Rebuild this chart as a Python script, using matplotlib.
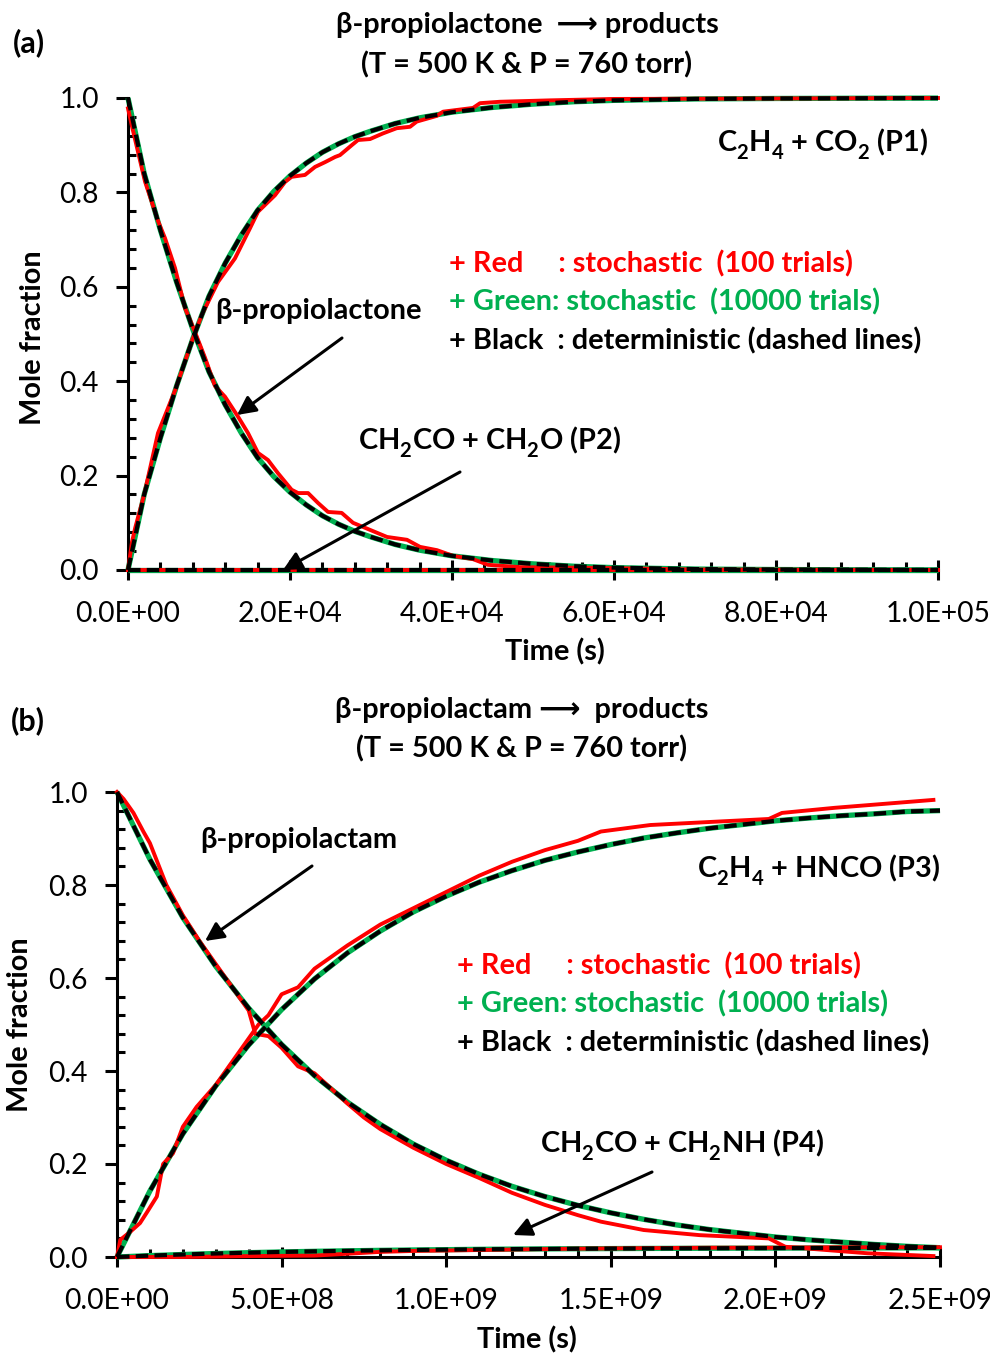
import matplotlib
matplotlib.use("Agg")
import matplotlib.pyplot as plt
from matplotlib.ticker import MultipleLocator, FixedLocator

plt.rcParams['font.family'] = ['Lato', 'DejaVu Sans']
plt.rcParams['mathtext.fontset'] = 'custom'
plt.rcParams['mathtext.rm'] = 'Lato:bold'
plt.rcParams['mathtext.it'] = 'Lato:bold'
plt.rcParams['mathtext.bf'] = 'Lato:bold'
plt.rcParams['mathtext.default'] = 'rm'
try:
    import matplotlib._mathtext as _mt
    _mt.FontConstantsBase.sub1 = 0.55
except Exception:
    pass

# ---------------- Panel (a) data ----------------
a_t_det = [0, 2000, 4000, 6000, 8000, 10000, 12000, 14000, 16000, 18000, 20000, 22000,
           24000, 26000, 28000, 30000, 33000, 36000, 40000, 45000, 50000, 55000, 60000,
           70000, 80000, 90000, 100000]
a_react_det = [1.0, 0.84, 0.72, 0.61, 0.51, 0.42, 0.35, 0.29, 0.238, 0.198, 0.165, 0.138,
               0.115, 0.097, 0.082, 0.070, 0.054, 0.042, 0.030, 0.020, 0.013, 0.008, 0.005,
               0.002, 0.001, 0.0005, 0.0002]
a_p1_det = [0.0, 0.16, 0.28, 0.39, 0.49, 0.58, 0.65, 0.71, 0.762, 0.802, 0.835, 0.862,
            0.885, 0.903, 0.918, 0.930, 0.946, 0.958, 0.970, 0.980, 0.987, 0.992, 0.995,
            0.998, 0.999, 0.9995, 0.9998]
a_t_p2 = [0, 100000]
a_p2_det = [0.0, 0.0]

a_react_green = [1.0, 0.84, 0.72, 0.61, 0.51, 0.42, 0.35, 0.29, 0.238, 0.198, 0.165, 0.138,
                 0.115, 0.097, 0.082, 0.070, 0.054, 0.042, 0.030, 0.020, 0.013, 0.008, 0.005,
                 0.002, 0.001, 0.0005, 0.0002]
a_p1_green = [0.0, 0.16, 0.28, 0.39, 0.49, 0.58, 0.65, 0.71, 0.762, 0.802, 0.835, 0.862,
              0.885, 0.903, 0.918, 0.930, 0.946, 0.958, 0.970, 0.980, 0.987, 0.992, 0.995,
              0.998, 0.999, 0.9995, 0.9998]
a_p2_green = [0.0, 0.0]

a_t_react_red = [0, 450, 2100, 3740, 4570, 5800, 7040, 8020, 9500, 10740, 11980, 13580, 14820,
                 16050, 17280, 18520, 20200, 21000, 22230, 23460, 24700, 26380, 27780, 29880,
                 31980, 34440, 36050, 38150, 40120, 42590, 44440, 48400, 59900, 70000, 100000]
a_react_red = [0.978, 0.943, 0.823, 0.738, 0.703, 0.64, 0.555, 0.515, 0.45, 0.39, 0.367, 0.325,
               0.29, 0.248, 0.233, 0.205, 0.17, 0.163, 0.163, 0.142, 0.123, 0.121, 0.100, 0.085,
               0.070, 0.064, 0.049, 0.042, 0.030, 0.023, 0.011, 0.006, 0.004, 0.001, 0.0]
a_t_p1_red = [0, 500, 900, 2000, 3700, 5800, 8000, 9100, 11100, 13200, 15060, 16050, 18150,
              19380, 20200, 21850, 23090, 24320, 25560, 26170, 27620, 28400, 29880, 31480,
              33170, 34820, 35640, 38100, 38900, 42600, 43460, 45900, 52100, 60000, 100000]
a_p1_red = [0.0, 0.06, 0.09, 0.16, 0.29, 0.38, 0.49, 0.54, 0.61, 0.66, 0.724, 0.759, 0.794,
            0.822, 0.833, 0.837, 0.854, 0.864, 0.875, 0.879, 0.90, 0.911, 0.913, 0.925,
            0.936, 0.939, 0.950, 0.962, 0.971, 0.979, 0.989, 0.992, 0.995, 0.998, 1.0]
a_p2_red = [0.0, 0.0]

a_xticks = [0, 20000, 40000, 60000, 80000, 100000]
a_xticklabels = ['0.0E+00', '2.0E+04', '4.0E+04', '6.0E+04', '8.0E+04', '1.0E+05']

# ---------------- Panel (b) data ----------------
b_t_det = [0, 1e8, 2e8, 3e8, 4e8, 5e8, 6e8, 7e8, 8e8, 9e8, 10e8, 11e8, 12e8, 13e8, 14e8,
           15e8, 16e8, 17e8, 18e8, 19e8, 20e8, 21e8, 22e8, 23e8, 24e8, 25e8]
b_react_det = [1.0, 0.855, 0.73, 0.625, 0.535, 0.457, 0.39, 0.333, 0.285, 0.243, 0.208, 0.178,
               0.152, 0.130, 0.111, 0.095, 0.081, 0.069, 0.059, 0.051, 0.043, 0.037, 0.032,
               0.027, 0.023, 0.020]
b_p3_det = [0.0, 0.142, 0.265, 0.368, 0.456, 0.532, 0.598, 0.654, 0.701, 0.742, 0.776, 0.806,
            0.831, 0.853, 0.871, 0.887, 0.901, 0.912, 0.922, 0.930, 0.938, 0.944, 0.949,
            0.953, 0.958, 0.960]
b_p4_det = [0.0, 0.003, 0.0054, 0.0075, 0.0093, 0.0109, 0.0122, 0.0133, 0.0143, 0.0151,
            0.0158, 0.0165, 0.017, 0.0174, 0.0178, 0.0181, 0.0184, 0.0186, 0.0188, 0.019,
            0.0191, 0.0193, 0.0194, 0.0195, 0.0195, 0.0196]

b_react_green = [1.0, 0.855, 0.73, 0.625, 0.535, 0.457, 0.39, 0.333, 0.285, 0.243, 0.208, 0.178,
                 0.152, 0.130, 0.111, 0.095, 0.081, 0.069, 0.059, 0.051, 0.043, 0.037, 0.032,
                 0.027, 0.023, 0.020]
b_p3_green = [0.0, 0.142, 0.265, 0.368, 0.456, 0.532, 0.598, 0.654, 0.701, 0.742, 0.776, 0.806,
              0.831, 0.853, 0.871, 0.887, 0.901, 0.912, 0.922, 0.930, 0.938, 0.944, 0.949,
              0.953, 0.958, 0.960]
b_p4_green = [0.0, 0.003, 0.0054, 0.0075, 0.0093, 0.0109, 0.0122, 0.0133, 0.0143, 0.0151,
              0.0158, 0.0165, 0.017, 0.0174, 0.0178, 0.0181, 0.0184, 0.0186, 0.0188, 0.019,
              0.0191, 0.0193, 0.0194, 0.0195, 0.0195, 0.0196]

b_t_react_red = [0, 0.2e8, 0.5e8, 0.8e8, 1e8, 1.5e8, 2e8, 2.5e8, 3e8, 3.5e8, 4e8, 4.2e8, 4.6e8,
                 5e8, 5.5e8, 6e8, 7e8, 7.5e8, 8e8, 9e8, 10e8, 11e8, 12e8, 13e8, 14e8, 14.7e8,
                 16e8, 17.7e8, 19.8e8, 20.3e8, 22.8e8, 24.8e8]
b_react_red = [1.0, 0.985, 0.955, 0.915, 0.89, 0.80, 0.735, 0.68, 0.63, 0.58, 0.53, 0.48, 0.475,
               0.45, 0.41, 0.395, 0.33, 0.30, 0.275, 0.235, 0.2, 0.17, 0.138, 0.112, 0.09, 0.076,
               0.058, 0.047, 0.040, 0.022, 0.008, 0.002]
b_t_p3_red = [0, 0.1e8, 0.4e8, 0.7e8, 0.9e8, 1.21e8, 1.4e8, 1.7e8, 2.0e8, 2.42e8, 3e8, 3.5e8,
              4e8, 4.3e8, 4.6e8, 5e8, 5.5e8, 6e8, 7e8, 8e8, 9e8, 10e8, 11e8, 12e8, 13e8, 14e8,
              14.7e8, 16.2e8, 19.8e8, 20.2e8, 21.8e8, 24.8e8]
b_p3_red = [0.0, 0.037, 0.054, 0.073, 0.095, 0.13, 0.20, 0.223, 0.28, 0.323, 0.37, 0.42, 0.47,
            0.50, 0.52, 0.565, 0.58, 0.62, 0.67, 0.715, 0.75, 0.785, 0.82, 0.85, 0.875, 0.895,
            0.915, 0.929, 0.942, 0.955, 0.966, 0.983]
b_t_p4_red = [0, 2e8, 3e8, 4e8, 6e8, 7e8, 8e8, 9e8, 10e8, 12e8, 14e8, 16e8, 18e8, 20e8, 22e8, 25e8]
b_p4_red = [0.0, 0.0, 0.001, 0.002, 0.003, 0.007, 0.011, 0.013, 0.014, 0.016, 0.018, 0.019,
            0.02, 0.02, 0.021, 0.021]

b_xticks = [0, 5e8, 10e8, 15e8, 20e8, 25e8]
b_xticklabels = ['0.0E+00', '5.0E+08', '1.0E+09', '1.5E+09', '2.0E+09', '2.5E+09']

yticks = [0.0, 0.2, 0.4, 0.6, 0.8, 1.0]
yticklabels = ['0.0', '0.2', '0.4', '0.6', '0.8', '1.0']

RED = '#FF0000'
GREEN = '#00B050'
BLACK = '#000000'

W, H = 990, 1356
fig = plt.figure(figsize=(W / 100, H / 100), dpi=100)


def fx(px):
    return px / W


def fy(py):
    return 1 - py / H


def style_axes(ax, xmax, xticks, xlabels, xminor):
    ax.set_xlim(0, xmax)
    ax.set_ylim(0, 1.0)
    for s in ['top', 'right']:
        ax.spines[s].set_visible(False)
    for s in ['left', 'bottom']:
        ax.spines[s].set_linewidth(2.2)
    ax.xaxis.set_major_locator(FixedLocator(xticks))
    ax.set_xticklabels(xlabels)
    ax.xaxis.set_minor_locator(MultipleLocator(xminor))
    ax.set_yticks(yticks)
    ax.set_yticklabels(yticklabels)
    ax.yaxis.set_minor_locator(MultipleLocator(0.04))
    ax.tick_params(axis='x', which='major', direction='inout', length=14, width=2.2,
                   labelsize=20.3, pad=15)
    ax.tick_params(axis='y', which='major', direction='out', length=9, width=2.2,
                   labelsize=20.3, pad=12)
    ax.tick_params(which='minor', direction='in', length=6, width=2.2)


def draw(ax, t, y, kind):
    if kind == 'green':
        ax.plot(t, y, color=GREEN, lw=3.8, solid_capstyle='butt', clip_on=False, zorder=2)
    elif kind == 'red':
        ax.plot(t, y, color=RED, lw=2.8, clip_on=False, zorder=3)
    else:
        ax.plot(t, y, color=BLACK, lw=3.0, ls=(0, (3.0, 1.5)), clip_on=False, zorder=4)


# ---------------- Panel (a) ----------------
ax_a = fig.add_axes([fx(128), fy(570), (938 - 128) / W, (570 - 98) / H])
style_axes(ax_a, 100000, a_xticks, a_xticklabels, 4000)
draw(ax_a, a_t_det, a_react_green, 'green')
draw(ax_a, a_t_det, a_p1_green, 'green')
draw(ax_a, a_t_p2, a_p2_green, 'green')
draw(ax_a, a_t_react_red, a_react_red, 'red')
draw(ax_a, a_t_p1_red, a_p1_red, 'red')
draw(ax_a, a_t_p2, a_p2_red, 'red')
draw(ax_a, a_t_det, a_react_det, 'black')
draw(ax_a, a_t_det, a_p1_det, 'black')
draw(ax_a, a_t_p2, a_p2_det, 'black')

# ---------------- Panel (b) ----------------
ax_b = fig.add_axes([fx(117), fy(1257), (940 - 117) / W, (1257 - 792) / H])
style_axes(ax_b, 25e8, b_xticks, b_xticklabels, 1e8)
draw(ax_b, b_t_det, b_react_green, 'green')
draw(ax_b, b_t_det, b_p3_green, 'green')
draw(ax_b, b_t_det, b_p4_green, 'green')
draw(ax_b, b_t_react_red, b_react_red, 'red')
draw(ax_b, b_t_p3_red, b_p3_red, 'red')
draw(ax_b, b_t_p4_red, b_p4_red, 'red')
draw(ax_b, b_t_det, b_react_det, 'black')
draw(ax_b, b_t_det, b_p3_det, 'black')
draw(ax_b, b_t_det, b_p4_det, 'black')

# ---------------- Texts ----------------
FS = 20.8


def txt(px, py, s, color=BLACK, ha='left', size=FS, weight='bold', rot=0):
    fig.text(fx(px), fy(py), s, color=color, ha=ha, va='center', fontsize=size,
             fontweight=weight, rotation=rot)


def arrow(p_from, p_to):
    fig.add_artist(matplotlib.patches.FancyArrowPatch(
        (fx(p_from[0]), fy(p_from[1])), (fx(p_to[0]), fy(p_to[1])),
        transform=fig.transFigure, arrowstyle='-|>', mutation_scale=28,
        lw=2.2, color=BLACK, shrinkA=0, shrinkB=0))


# panel a
txt(13, 43, '(a)', size=22)
txt(527, 25, 'β-propiolactone  \u27f6 products', ha='center')
txt(527, 65, '(T = 500 K & P = 760 torr)', ha='center')
txt(928, 144, 'C$_2$H$_4$ + CO$_2$ (P1)', ha='right')
txt(449, 264, '+ Red     : stochastic  (100 trials)', color=RED)
txt(449, 302, '+ Green: stochastic  (10000 trials)', color=GREEN)
txt(449, 341, '+ Black  : deterministic (dashed lines)')
txt(215, 311, 'β-propiolactone')
arrow((342, 338), (237, 415))
txt(358, 442, 'CH$_2$CO + CH$_2$O (P2)')
arrow((460, 472), (283, 570))
txt(33, 338, 'Mole fraction', ha='center', rot=90)
txt(555, 652, 'Time (s)', ha='center')

# panel b
txt(11, 721, '(b)', size=22)
txt(522, 710, 'β-propiolactam \u27f6  products', ha='center')
txt(522, 749, '(T = 500 K & P = 760 torr)', ha='center')
txt(200, 840, 'β-propiolactam')
arrow((312, 866), (205, 941))
txt(940, 870, 'C$_2$H$_4$ + HNCO (P3)', ha='right')
txt(457, 966, '+ Red     : stochastic  (100 trials)', color=RED)
txt(457, 1004, '+ Green: stochastic  (10000 trials)', color=GREEN)
txt(457, 1043, '+ Black  : deterministic (dashed lines)')
txt(540, 1145, 'CH$_2$CO + CH$_2$NH (P4)')
arrow((652, 1172), (513, 1235))
txt(20, 1025, 'Mole fraction', ha='center', rot=90)
txt(527, 1340, 'Time (s)', ha='center')

fig.savefig('out.png', dpi=100)
